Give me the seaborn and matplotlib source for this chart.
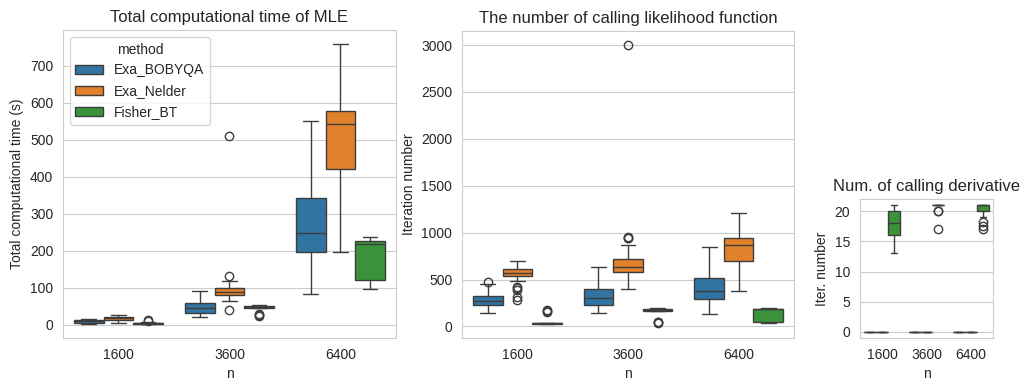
#------------------Box plots of MLE cost: time, likelihood calls, derivative calls------------------#

import numpy as np
import pandas as pd
import matplotlib
matplotlib.use('Agg')
import matplotlib.pyplot as plt
import seaborn as sns

#Sample sizes and methods
n_values = [1600, 3600, 6400]
methods = ['Exa_BOBYQA', 'Exa_Nelder', 'Fisher_BT']

#Total computational time (s), one list per n
time_bobyqa = [[3, 5, 9, 13, 16],
               [21, 31, 45, 58, 90],
               [83, 196, 247, 342, 549]]
time_nelder = [[6, 12, 18, 22, 26],
               [40, 65, 72, 80, 84, 87, 89, 92, 95, 98, 118, 132, 511],
               [196, 420, 542, 578, 758]]
time_fisher = [[2, 3, 3, 3, 4, 4, 5, 5, 6, 6, 8, 11, 13],
               [24, 27, 30, 44, 46, 47, 47, 48, 48, 48, 49, 50, 50, 51, 52, 53, 53],
               [96, 121, 218, 225, 237]]

#Number of likelihood calls
iter_bobyqa = [[141, 200, 230, 250, 275, 300, 320, 452, 470],
               [141, 226, 306, 398, 634],
               [131, 289, 377, 521, 845]]
iter_nelder = [[285, 310, 390, 405, 420, 479, 535, 540, 545, 550, 555, 562, 570,
                578, 585, 592, 598, 604, 610, 620, 635, 650, 665, 680, 694],
               [395, 450, 500, 540, 560, 581, 595, 605, 615, 625, 634,
                650, 670, 690, 705, 722, 870, 940, 945, 950, 3000],
               [377, 697, 873, 944, 1208]]
iter_fisher = [[25, 28, 29, 30, 32, 34, 35, 36, 37, 38, 155, 165, 170],
               [35, 42, 50, 166, 170, 174, 178, 182, 186, 190, 192, 194, 195],
               [38, 42, 188, 190, 192]]

#Number of derivative calls
deriv_bobyqa = [[0, 0, 0, 0, 0], [0, 0, 0, 0, 0], [0, 0, 0, 0, 0]]
deriv_nelder = [[0, 0, 0, 0, 0], [0, 0, 0, 0, 0], [0, 0, 0, 0, 0]]
deriv_fisher = [[13, 16, 18, 20, 21],
                [17, 20, 20, 21, 21, 21, 21, 21, 21, 21, 21, 21, 21],
                [17, 17.6, 18.2, 19, 20, 20, 20, 21, 21, 21, 21, 21, 21, 21, 21, 21, 21]]


def to_long(per_method):
    rows = []
    for method, per_n in zip(methods, per_method):
        for n, vals in zip(n_values, per_n):
            for v in vals:
                rows.append({'n': n, 'method': method, 'value': v})
    return pd.DataFrame(rows)


time_df = to_long([time_bobyqa, time_nelder, time_fisher])
iter_df = to_long([iter_bobyqa, iter_nelder, iter_fisher])
deriv_df = to_long([deriv_bobyqa, deriv_nelder, deriv_fisher])

sns.set_style('whitegrid')
plt.rcParams['font.family'] = ['Liberation Sans', 'DejaVu Sans']
fig = plt.figure(figsize=(10.29, 3.91), dpi=100)
ax1 = fig.add_axes([0.0612, 0.1355, 0.3236, 0.7877])
ax2 = fig.add_axes([0.449, 0.1355, 0.3226, 0.785])
ax3 = fig.add_axes([0.8358, 0.1355, 0.1293, 0.3555])

sns.boxplot(data=time_df, x='n', y='value', hue='method', ax=ax1)
ax1.set_title('Total computational time of MLE')
ax1.set_ylabel('Total computational time (s)')
ax1.legend(title='method', loc='upper left')

sns.boxplot(data=iter_df, x='n', y='value', hue='method', ax=ax2, legend=False)
ax2.set_title('The number of calling likelihood function')
ax2.set_ylabel('Iteration number')

sns.boxplot(data=deriv_df, x='n', y='value', hue='method', ax=ax3, legend=False)
ax3.set_title('Num. of calling derivative')
ax3.set_ylabel('Iter. number')
ax3.set_yticks([0, 5, 10, 15, 20])

fig.savefig('out.png', dpi=100)
